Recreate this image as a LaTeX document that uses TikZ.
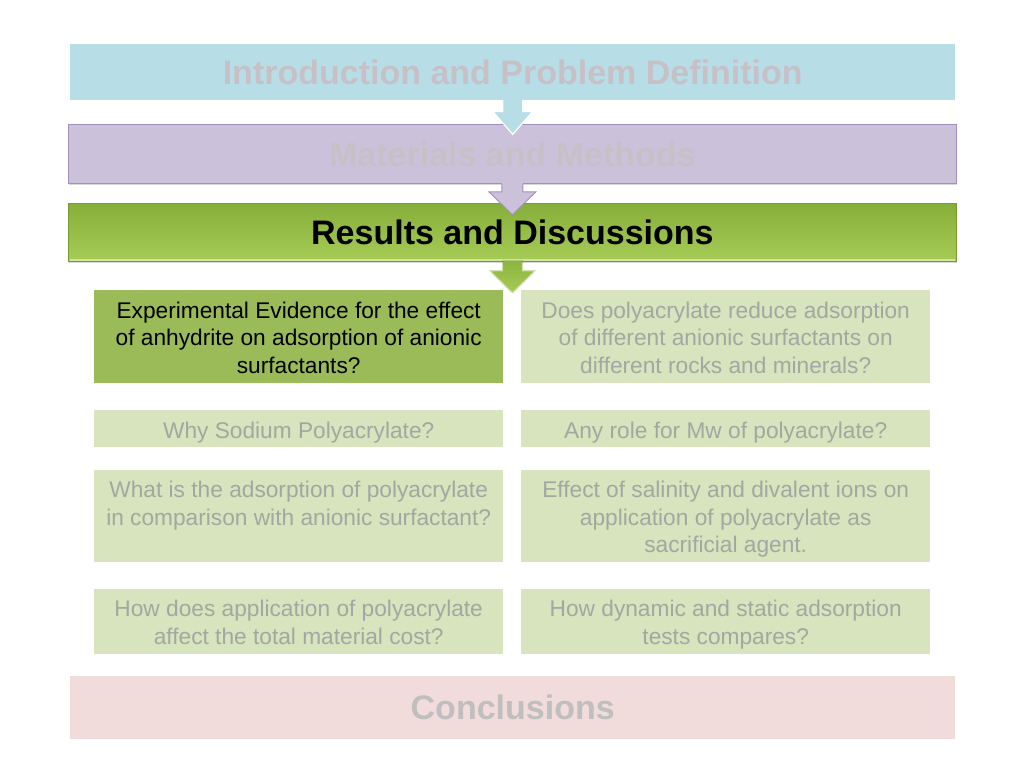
\documentclass[tikz,border=0pt]{standalone}
\usepackage{fontspec}
\setmainfont{Liberation Sans}
\usetikzlibrary{calc,shadows}
\definecolor{blueb}{HTML}{B7DEE6}
\definecolor{purpb}{HTML}{CCC1DA}
\definecolor{purpline}{HTML}{9F90BF}
\definecolor{greentop}{HTML}{86AE3A}
\definecolor{greenbot}{HTML}{A6CC56}
\definecolor{greenline}{HTML}{789B32}
\definecolor{greenedge}{HTML}{CDE59C}
\definecolor{dgreen}{HTML}{9BBB59}
\definecolor{lgreen}{HTML}{D7E4BD}
\definecolor{pinkb}{HTML}{F2DCDB}
\definecolor{headgray}{HTML}{C7C1C7}
\definecolor{txtgray}{HTML}{A4A6A2}
\definecolor{conclgray}{HTML}{BFBFBF}
\begin{document}
\begin{tikzpicture}[x=1pt,y=-1pt,
  bar/.style={rectangle, inner sep=0pt, anchor=north west,
    font=\fontsize{34}{40}\selectfont\bfseries},
  qbox/.style={rectangle, inner sep=0pt, minimum width=409pt, anchor=north west, fill=lgreen},
  qtext/.style={inner sep=0pt, anchor=north, align=center, text=txtgray,
    font=\fontsize{22.7}{27.5}\selectfont},
  barshadow/.style={drop shadow={shadow xshift=1pt, shadow yshift=-2pt, opacity=0.25, fill=black!60}}
]
\useasboundingbox[fill=white] (0,0) rectangle (1024,768);

% ---------- stage bars ----------
\node[bar, fill=blueb, minimum width=885pt, minimum height=56pt, text=headgray]
  (intro) at (70,44) {Introduction and Problem Definition};

\node[bar, barshadow, fill=purpb, draw=purpline, line width=0.8pt,
  minimum width=888pt, minimum height=59pt, text=headgray]
  (methods) at (68,124) {Materials and Methods};

\node[bar, barshadow, top color=greentop, bottom color=greenbot, draw=greenline, line width=0.8pt,
  minimum width=888pt, minimum height=58pt, text=black]
  (results) at (68,203) {Results and Discussions};
\draw[greenedge, line width=2pt] ($(results.south west)+(1.5,-1.5)$) -- ($(results.south east)+(-1.5,-1.5)$);

% ---------- block arrows ----------
% intro -> methods
\fill[blueb] ($(intro.south)+(-10,-1)$) -- ++(20,0) -- ++(0,12) -- ++(10,0) -- ++(-20,23)
  -- ++(-20,-23) -- ++(10,0) -- cycle;
\draw[white, line width=1.2pt, line join=miter] ($(intro.south)+(10,0)$) -- ++(0,11) -- ++(10,0)
  -- ++(-20,23) -- ++(-20,-23) -- ++(10,0) -- ++(0,-11);

% methods -> results
\fill[purpb] ($(methods.south)+(-10.5,-1)$) -- ++(21,0) -- ++(0,9) -- ++(13,0) -- ++(-23.5,23)
  -- ++(-23.5,-23) -- ++(13,0) -- cycle;
\draw[purpline, line width=0.9pt, line join=miter] ($(methods.south)+(10.5,0.4)$) -- ++(0,7.6) -- ++(13,0)
  -- ++(-23.5,23) -- ++(-23.5,-23) -- ++(13,0) -- ++(0,-7.6);

% ---------- question boxes ----------
\node[qbox, fill=dgreen, minimum height=93pt] (q1l) at (94,290) {};
\node[qbox, minimum height=93pt] (q1r) at (521,290) {};
\node[qbox, minimum height=37pt] (q2l) at (94,410) {};
\node[qbox, minimum height=37pt] (q2r) at (521,410) {};
\node[qbox, minimum height=92pt] (q3l) at (94,470) {};
\node[qbox, minimum height=92pt] (q3r) at (521,470) {};
\node[qbox, minimum height=65pt] (q4l) at (94,589) {};
\node[qbox, minimum height=65pt] (q4r) at (521,589) {};

% results -> questions
\fill[top color=greentop!80!greenbot, bottom color=greenbot] ($(results.south)+(-10,-1)$) -- ++(20,0) -- ++(0,10)
  -- ++(12.5,0) -- ++(-22.5,22) -- ++(-22.5,-22) -- ++(12.5,0) -- cycle;
\draw[greenedge, line width=1pt, line join=miter] ($(results.south)+(10,0.5)$) -- ++(0,8.5) -- ++(12.5,0)
  -- ++(-22.5,22) -- ++(-22.5,-22) -- ++(12.5,0) -- ++(0,-8.5);

\node[qtext, text=black] (t1l) at ($(q1l.north)+(0,8.75)$)
  {\strut Experimental Evidence for the effect\\of anhydrite on adsorption of anionic\\surfactants?};
\node[qtext] (t1r) at ($(q1r.north)+(0,8.75)$)
  {\strut Does polyacrylate reduce adsorption\\of different anionic surfactants on\\different rocks and minerals?};
\node[qtext] (t2l) at ($(q2l.north)+(0,8.75)$) {\strut Why Sodium Polyacrylate?};
\node[qtext] (t2r) at ($(q2r.north)+(0,8.75)$) {\strut Any role for Mw of polyacrylate?};
\node[qtext] (t3l) at ($(q3l.north)+(0,8.25)$)
  {\strut What is the adsorption of polyacrylate\\in comparison with anionic surfactant?};
\node[qtext] (t3r) at ($(q3r.north)+(0,8.25)$)
  {\strut Effect of salinity and divalent ions on\\application of polyacrylate as\\sacrificial agent.};
\node[qtext] (t4l) at ($(q4l.north)+(0,8.25)$)
  {\strut How does application of polyacrylate\\affect the total material cost?};
\node[qtext] (t4r) at ($(q4r.north)+(0,8.25)$)
  {\strut How dynamic and static adsorption\\tests compares?};

% ---------- conclusions ----------
\node[bar, fill=pinkb, minimum width=885pt, minimum height=63pt, text=conclgray]
  (concl) at (70,676) {Conclusions};
\end{tikzpicture}
\end{document}
